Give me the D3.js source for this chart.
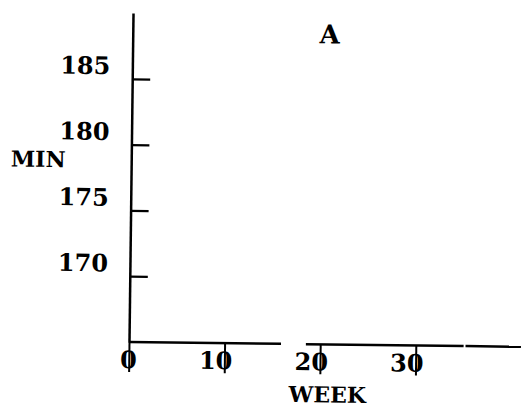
<!DOCTYPE html>
<html>
<head>
<meta charset="utf-8">
<script src="https://cdn.jsdelivr.net/npm/d3@7"></script>
<style>
  body { margin: 0; background: #fff; }
  svg text { font-family: "DejaVu Serif", "Liberation Serif", serif; font-weight: bold; fill: #000; }
</style>
</head>
<body>
<div id="chart"></div>
<script>
// axis values
const weekTicks = [0, 10, 20, 30];
const minTicks = [170, 175, 180, 185];
const weekDomain = [0, 41];
const minDomain = [165, 190];
// the x axis line is broken in the scan (week ranges)
const axisSegments = [[0, 15.9], [18.5, 35.0], [35.2, 41]];
const panelLabel = 'A';
const xLabel = 'WEEK';
const yLabel = 'MIN';

const width = 521;
const height = 408;
const margin = { top: 13, right: 0, bottom: 66, left: 129 };

const svg = d3.select('#chart')
  .append('svg')
  .attr('width', width)
  .attr('height', height);

// the page was scanned a little crooked
const g = svg.append('g')
  .attr('transform', `rotate(0.7, ${margin.left}, ${height - margin.bottom})`);

const xScale = d3.scaleLinear()
  .domain(weekDomain)
  .range([margin.left, width - margin.right]);

const yScale = d3.scaleLinear()
  .domain(minDomain)
  .range([height - margin.bottom, margin.top]);

const yAxis = d3.axisLeft(yScale)
  .tickValues(minTicks)
  .tickSize(-18)
  .tickSizeOuter(0)
  .tickPadding(22);

const xAxis = d3.axisBottom(xScale)
  .tickValues(weekTicks)
  .tickSize(30)
  .tickSizeOuter(0);

const yG = g.append('g')
  .attr('class', 'y axis')
  .attr('transform', `translate(${margin.left}, 0)`)
  .call(yAxis);

yG.select('.domain').attr('stroke-width', 2.5);
yG.selectAll('.tick line').attr('stroke-width', 2.2);
yG.selectAll('.tick text')
  .attr('dy', -5)
  .style('font-size', '24px');

const xG = g.append('g')
  .attr('class', 'x axis')
  .attr('transform', `translate(0, ${height - margin.bottom})`)
  .call(xAxis);

xG.select('.domain').remove();
xG.selectAll('.tick line').attr('stroke-width', 2);
xG.selectAll('.tick text')
  .attr('y', 26)
  .attr('dy', 0)
  .attr('dx', 7.5)
  .attr('text-anchor', 'end')
  .style('font-size', '24px');

g.selectAll('.x-seg')
  .data(axisSegments)
  .enter()
  .append('line')
  .attr('class', 'x-seg')
  .attr('x1', d => xScale(d[0]))
  .attr('x2', d => xScale(d[1]))
  .attr('y1', height - margin.bottom)
  .attr('y2', height - margin.bottom)
  .attr('stroke', '#000')
  .attr('stroke-width', 2.5);

g.append('text')
  .attr('x', 36)
  .attr('y', 168)
  .attr('text-anchor', 'middle')
  .style('font-size', '22px')
  .text(yLabel);

g.append('text')
  .attr('x', xScale(20.8))
  .attr('y', 400)
  .attr('text-anchor', 'middle')
  .style('font-size', '22px')
  .text(xLabel);

g.append('text')
  .attr('x', xScale(20.6))
  .attr('y', 41)
  .attr('text-anchor', 'middle')
  .style('font-size', '26px')
  .text(panelLabel);
</script>
</body>
</html>
